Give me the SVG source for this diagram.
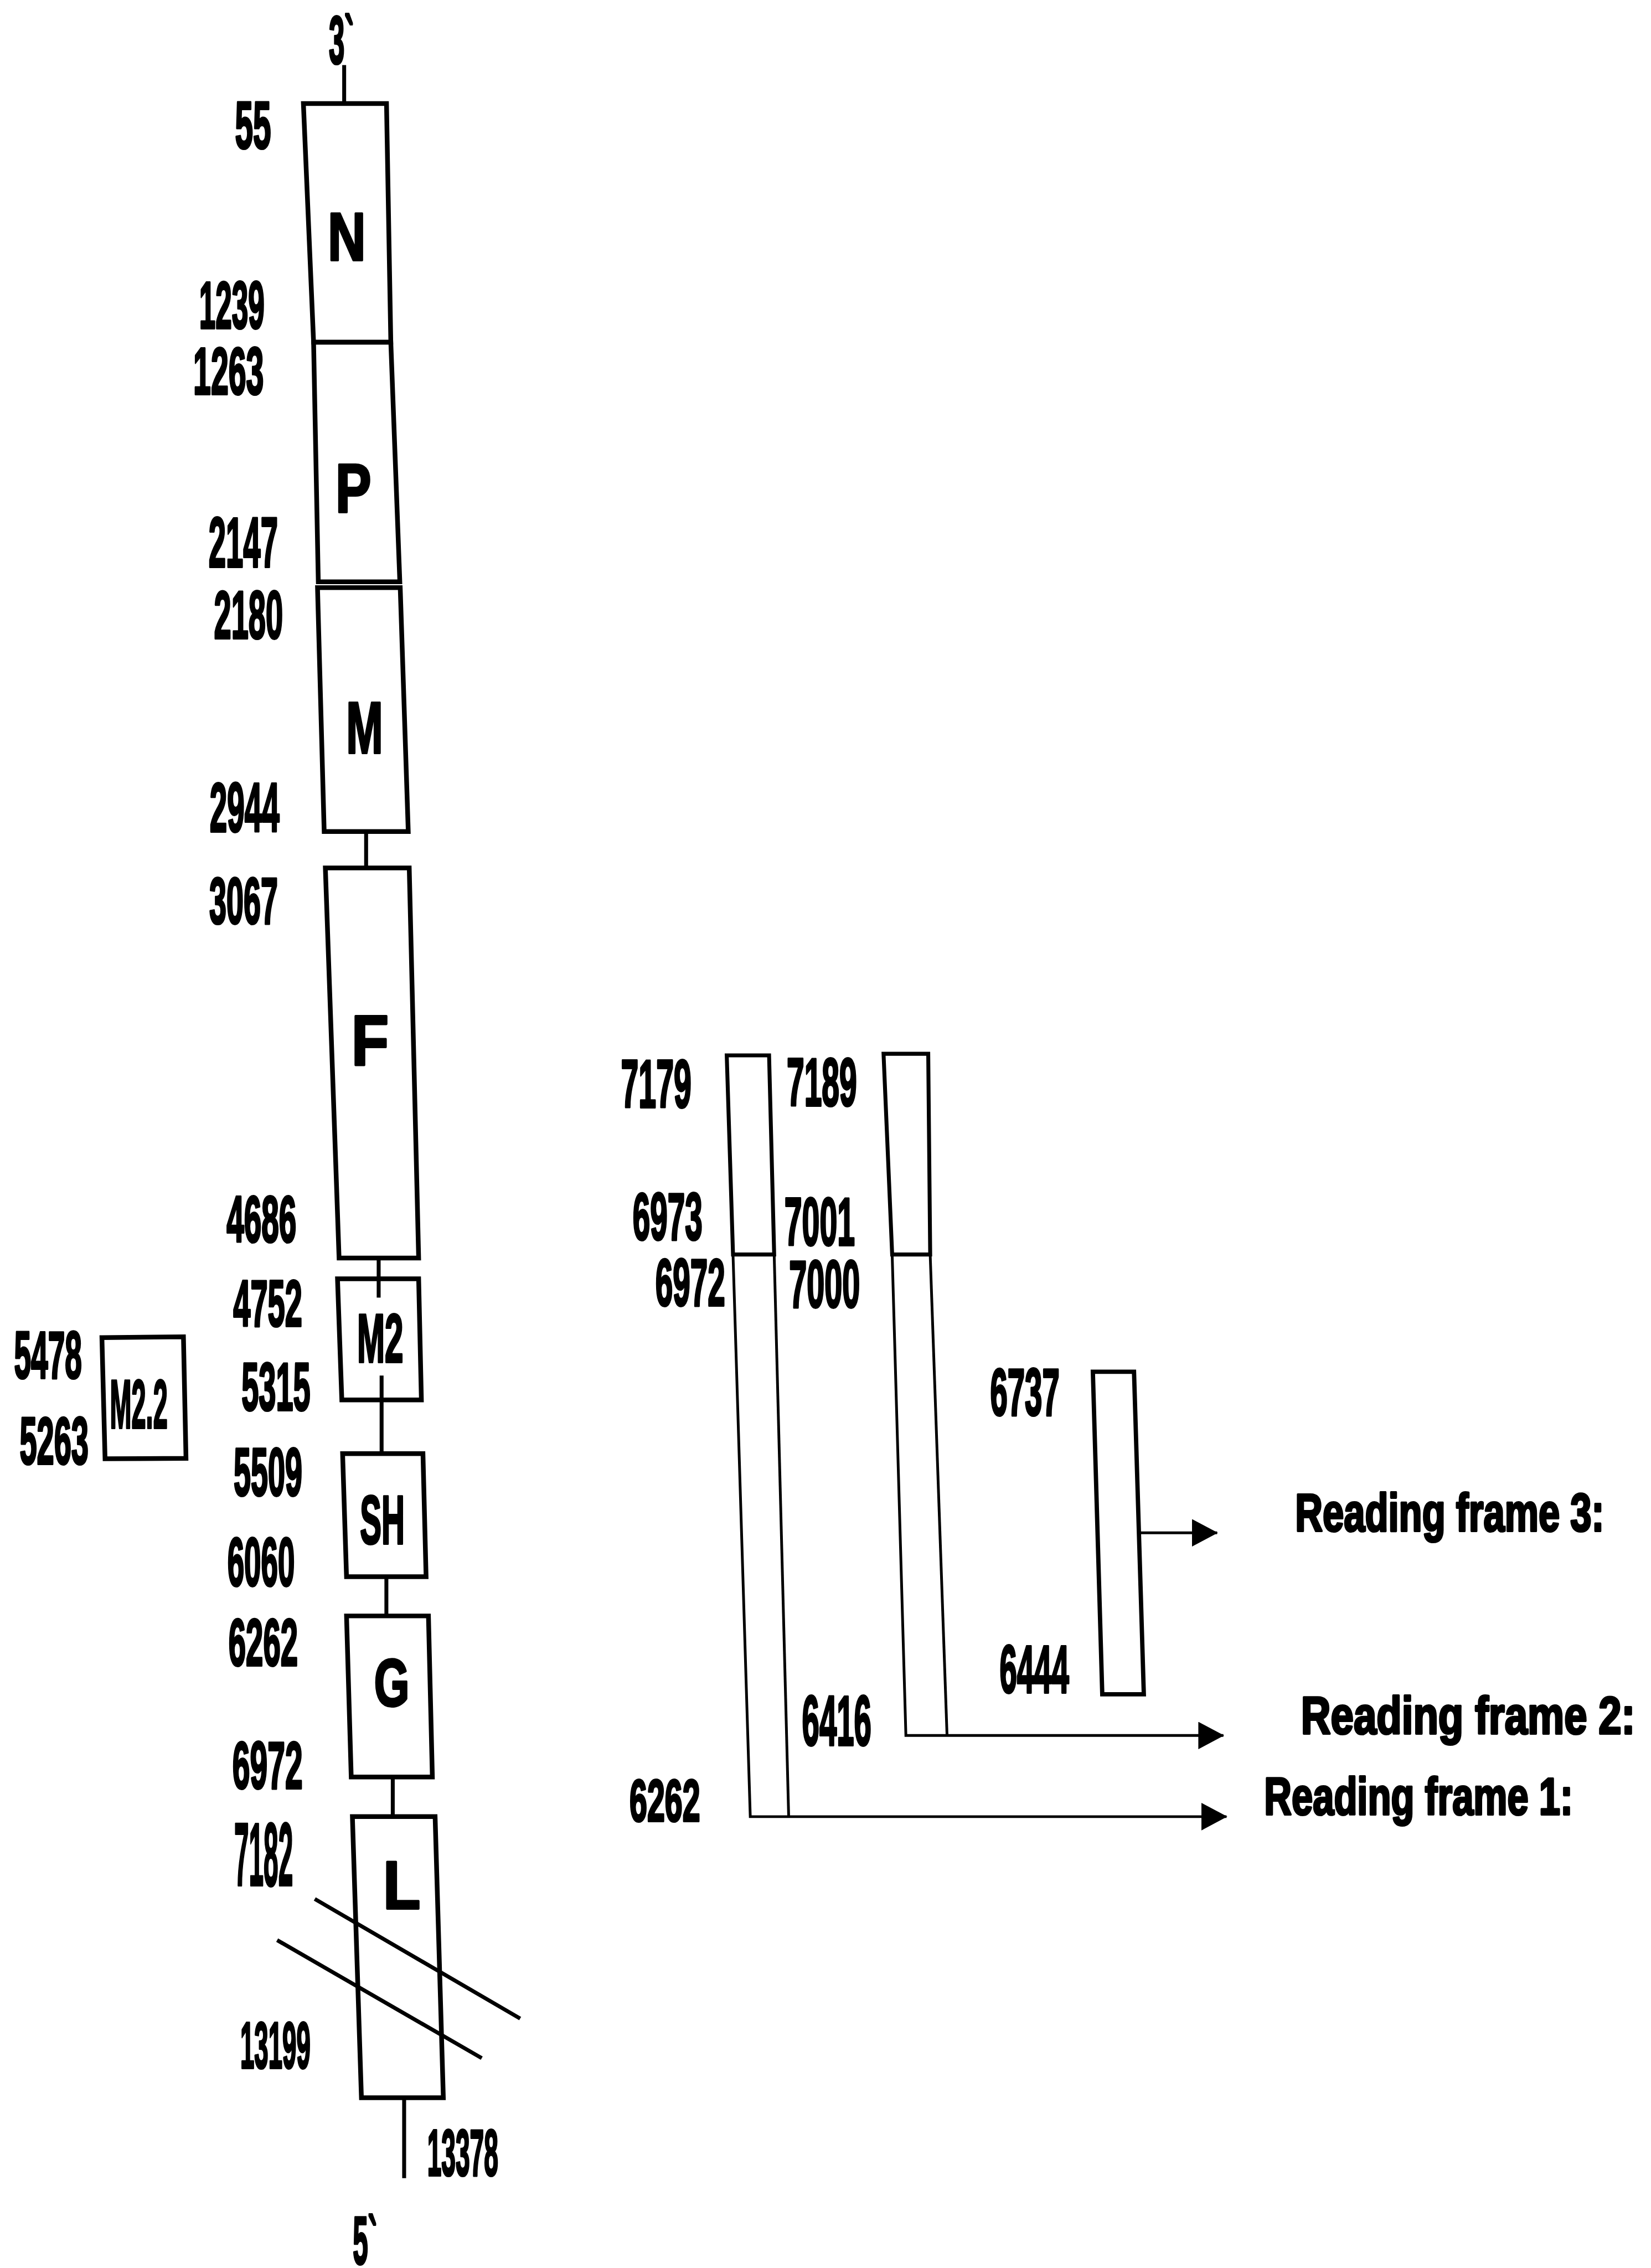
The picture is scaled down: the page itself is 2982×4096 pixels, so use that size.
<svg xmlns="http://www.w3.org/2000/svg" width="2982" height="4096" viewBox="0 0 2982 4096">
<style>
.box{fill:none;stroke:#000;stroke-width:12;stroke-linejoin:miter}
.rbox{fill:none;stroke:#000;stroke-width:10}
.ln{fill:none;stroke:#000;stroke-width:10;stroke-linecap:butt}
.thin{fill:none;stroke:#000;stroke-width:7}
.t{font-family:"Liberation Sans",Arial,sans-serif;font-weight:bold;fill:#000;stroke:#000;stroke-width:6;stroke-linejoin:round;text-anchor:middle}
.rf{font-family:"Liberation Sans",Arial,sans-serif;font-weight:bold;fill:#000;stroke:#000;stroke-width:6;stroke-linejoin:round;text-anchor:start}
</style>
<defs>
<marker id="arr" markerUnits="userSpaceOnUse" viewBox="0 0 66 70" refX="64" refY="35" markerWidth="66" markerHeight="70" orient="auto">
<path d="M0,0 L66,35 L0,70 z" fill="#000"/>
</marker>
</defs>
<rect x="0" y="0" width="2982" height="4096" fill="#fff"/>
<g transform="scale(0.708)">
<g id="connectors">
<line class="ln" x1="878" y1="166" x2="878" y2="264"/>
<line class="ln" x1="934" y1="2121" x2="934" y2="2214"/>
<line class="ln" x1="966" y1="3209" x2="966" y2="3310"/>
<line class="ln" x1="973.5" y1="3509" x2="973.5" y2="3708"/>
<line class="ln" x1="985.7" y1="4022" x2="985.7" y2="4122"/>
<line class="ln" x1="1002" y1="4533" x2="1002" y2="4634"/>
<line class="ln" x1="1031" y1="5351" x2="1031" y2="5556"/>
<line class="ln" x1="803" y1="4844" x2="1327" y2="5149"/>
<line class="ln" x1="707" y1="4949" x2="1229" y2="5250"/>
<polyline class="thin" points="1870,3200 1914,4634 3129,4634" marker-end="url(#arr)"/>
<line class="thin" x1="1975" y1="3200" x2="2012" y2="4634"/>
<polyline class="thin" points="2276,3200 2311,4427 3121,4427" marker-end="url(#arr)"/>
<polyline class="thin" points="2373,3200 2416,4427"/>
<line class="thin" x1="2907" y1="3910" x2="3105" y2="3910" marker-end="url(#arr)"/>
</g>
<g id="node-3prime"><text class="t" x="871" y="163" font-size="174" textLength="64" lengthAdjust="spacingAndGlyphs">3`</text></g>
<g id="node-N">
<polygon class="box" points="774,264 986,264 997,873 800,873"/>
<text class="t" x="884.5" y="664" font-size="174" textLength="97" lengthAdjust="spacingAndGlyphs">N</text>
</g>
<g id="node-P">
<polygon class="box" points="800,873 997,873 1020,1484 812,1484"/>
<text class="t" x="901.5" y="1307" font-size="176" textLength="91" lengthAdjust="spacingAndGlyphs">P</text>
</g>
<g id="node-M">
<polygon class="box" points="810,1499 1021,1499 1041.5,2121 827,2121"/>
<text class="t" x="930" y="1921" font-size="186" textLength="94" lengthAdjust="spacingAndGlyphs">M</text>
</g>
<g id="node-F">
<polygon class="box" points="830,2214 1044,2214 1068,3209 865,3209"/>
<text class="t" x="944" y="2716" font-size="180" textLength="95" lengthAdjust="spacingAndGlyphs">F</text>
</g>
<g id="node-M2">
<polygon class="box" points="861,3262 1068,3262 1075,3571 872,3571"/>
<text class="t" x="970" y="3474" font-size="175" textLength="118" lengthAdjust="spacingAndGlyphs">M2</text>
</g>
<g id="node-M2.2">
<polygon class="box" points="260,3412 468,3410 474.5,3720 268,3721"/>
<text class="t" x="354" y="3643" font-size="175" textLength="147" lengthAdjust="spacingAndGlyphs">M2.2</text>
</g>
<g id="node-SH">
<polygon class="box" points="874,3708 1079,3708 1087,4022 884,4022"/>
<text class="t" x="975.5" y="3938" font-size="175" textLength="114" lengthAdjust="spacingAndGlyphs">SH</text>
</g>
<g id="node-G">
<polygon class="box" points="884,4122 1093,4122 1103,4533 896,4533"/>
<text class="t" x="999.5" y="4352" font-size="171" textLength="90" lengthAdjust="spacingAndGlyphs">G</text>
</g>
<g id="node-L">
<polygon class="box" points="899,4634 1110,4634 1131,5351 922,5351"/>
<text class="t" x="1025" y="4869" font-size="173" textLength="95" lengthAdjust="spacingAndGlyphs">L</text>
</g>
<g id="node-5prime"><text class="t" x="931" y="5776" font-size="172" textLength="62" lengthAdjust="spacingAndGlyphs">5`</text></g>
<g id="node-rf1-box"><polygon class="rbox" points="1854,2692 1962,2692 1975,3200 1870,3200"/></g>
<g id="node-rf2-box"><polygon class="rbox" points="2254,2688 2368,2688 2373,3200 2276,3200"/></g>
<g id="node-rf3-box"><polygon class="box" points="2788,3499 2893,3499 2918,4322 2812,4322" style="stroke-width:11"/></g>
<g id="position-labels">
<text class="t" x="645.5" y="378" font-size="171" textLength="92" lengthAdjust="spacingAndGlyphs">55</text>
<text class="t" x="591.5" y="838" font-size="170" textLength="167" lengthAdjust="spacingAndGlyphs">1239</text>
<text class="t" x="583" y="1005" font-size="171" textLength="180" lengthAdjust="spacingAndGlyphs">1263</text>
<text class="t" x="620.5" y="1447" font-size="181" textLength="177" lengthAdjust="spacingAndGlyphs">2147</text>
<text class="t" x="634" y="1629" font-size="173" textLength="176" lengthAdjust="spacingAndGlyphs">2180</text>
<text class="t" x="624" y="2121" font-size="178" textLength="178" lengthAdjust="spacingAndGlyphs">2944</text>
<text class="t" x="621.5" y="2356" font-size="167" textLength="175" lengthAdjust="spacingAndGlyphs">3067</text>
<text class="t" x="667" y="3168" font-size="167" textLength="178" lengthAdjust="spacingAndGlyphs">4686</text>
<text class="t" x="683" y="3383" font-size="167" textLength="176" lengthAdjust="spacingAndGlyphs">4752</text>
<text class="t" x="704" y="3597" font-size="173" textLength="176" lengthAdjust="spacingAndGlyphs">5315</text>
<text class="t" x="683.5" y="3815" font-size="173" textLength="175" lengthAdjust="spacingAndGlyphs">5509</text>
<text class="t" x="666" y="4045" font-size="175" textLength="172" lengthAdjust="spacingAndGlyphs">6060</text>
<text class="t" x="671.5" y="4248" font-size="170" textLength="177" lengthAdjust="spacingAndGlyphs">6262</text>
<text class="t" x="682.5" y="4562" font-size="171" textLength="179" lengthAdjust="spacingAndGlyphs">6972</text>
<text class="t" x="672.5" y="4810" font-size="229" textLength="150" lengthAdjust="spacingAndGlyphs">7182</text>
<text class="t" x="702.5" y="5276" font-size="167" textLength="179" lengthAdjust="spacingAndGlyphs">13199</text>
<text class="t" x="1180.5" y="5549" font-size="167" textLength="181" lengthAdjust="spacingAndGlyphs">13378</text>
<text class="t" x="122.5" y="3515" font-size="170" textLength="173" lengthAdjust="spacingAndGlyphs">5478</text>
<text class="t" x="138" y="3735" font-size="170" textLength="176" lengthAdjust="spacingAndGlyphs">5263</text>
<text class="t" x="1674" y="2825" font-size="174" textLength="180" lengthAdjust="spacingAndGlyphs">7179</text>
<text class="t" x="1703" y="3163" font-size="171" textLength="178" lengthAdjust="spacingAndGlyphs">6973</text>
<text class="t" x="1761" y="3330" font-size="170" textLength="178" lengthAdjust="spacingAndGlyphs">6972</text>
<text class="t" x="2096.5" y="2821" font-size="174" textLength="179" lengthAdjust="spacingAndGlyphs">7189</text>
<text class="t" x="2091" y="3177" font-size="174" textLength="180" lengthAdjust="spacingAndGlyphs">7001</text>
<text class="t" x="2103.5" y="3335" font-size="170" textLength="181" lengthAdjust="spacingAndGlyphs">7000</text>
<text class="t" x="2614.5" y="3610" font-size="169" textLength="177" lengthAdjust="spacingAndGlyphs">6737</text>
<text class="t" x="2638.5" y="4318" font-size="173" textLength="177" lengthAdjust="spacingAndGlyphs">6444</text>
<text class="t" x="2134.5" y="4452" font-size="182" textLength="177" lengthAdjust="spacingAndGlyphs">6416</text>
<text class="t" x="1696" y="4645" font-size="153" textLength="180" lengthAdjust="spacingAndGlyphs">6262</text>
</g>
<g id="frame-labels">
<text class="rf" transform="translate(3304,3905) scale(0.72,1)" font-size="135">Reading frame 3:</text>
<text class="rf" transform="translate(3319,4422) scale(0.79,1)" font-size="133">Reading frame 2:</text>
<text class="rf" transform="translate(3225,4629) scale(0.73,1)" font-size="133">Reading frame 1:</text>
</g>
</g>
</svg>
